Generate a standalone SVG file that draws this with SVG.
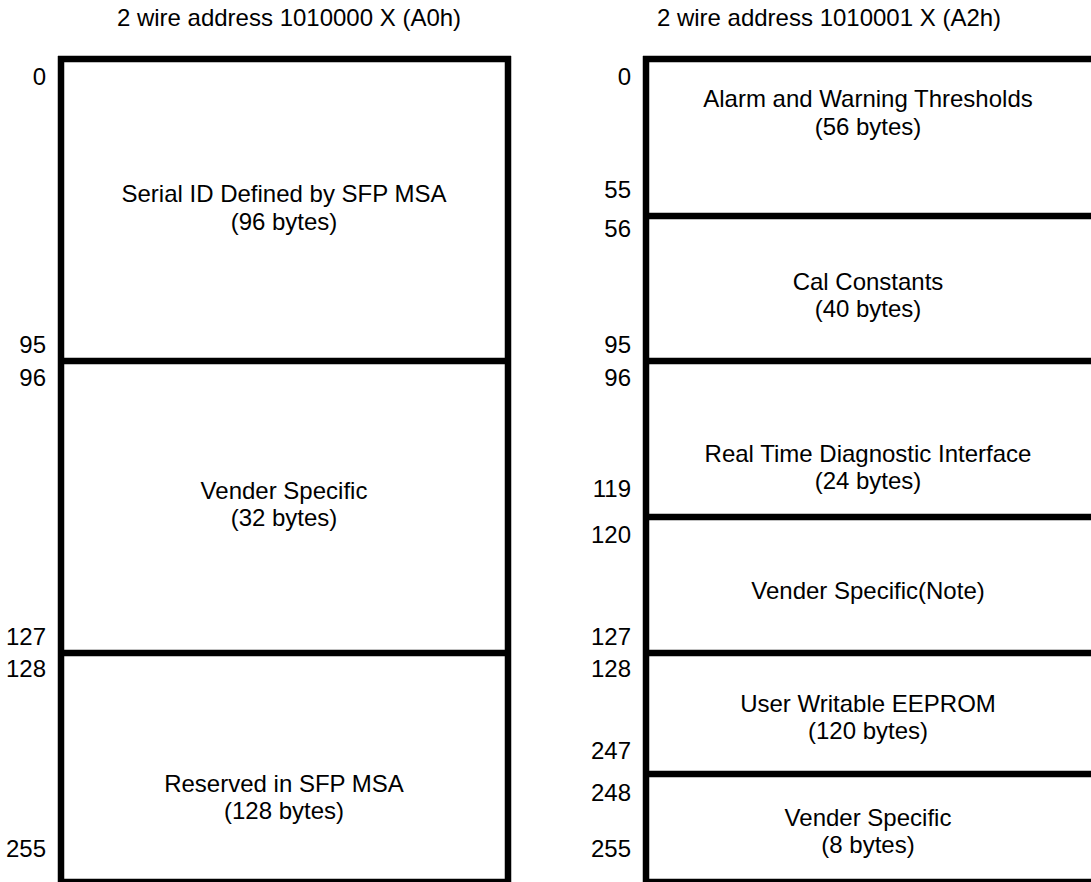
<svg xmlns="http://www.w3.org/2000/svg" width="1091" height="882" viewBox="0 0 1091 882">
<style>
  text { font-family: "Liberation Sans", Arial, sans-serif; font-size: 24px; fill: #000; }
  .c { text-anchor: middle; }
  .r { text-anchor: end; }
  .ln { stroke: #000; stroke-width: 6.5; fill: none; }
</style>
<rect width="1091" height="882" fill="#fff"/>
<g id="titles">
  <text class="c" x="289" y="26">2 wire address 1010000 X (A0h)</text>
  <text class="c" x="829" y="26">2 wire address 1010001 X (A2h)</text>
</g>
<g id="box-a0">
  <path class="ln" d="M61,56 V885 M508,56 V885 M58,59 H511 M61,882 H508"/>
  <path class="ln" d="M61,361 H508 M61,653 H508"/>
</g>
<g id="box-a2">
  <path class="ln" d="M646,56 V885 M643,59 H1091 M646,882 H1091"/>
  <path class="ln" d="M646,216 H1091 M646,361 H1091 M646,517 H1091 M646,653 H1091 M646,774 H1091"/>
</g>
<g id="a0-serial-id">
  <text class="c" x="284" y="202">Serial ID Defined by SFP MSA</text>
  <text class="c" x="284" y="230">(96 bytes)</text>
</g>
<g id="a0-vendor">
  <text class="c" x="284" y="499">Vender Specific</text>
  <text class="c" x="284" y="526">(32 bytes)</text>
</g>
<g id="a0-reserved">
  <text class="c" x="284" y="792">Reserved in SFP MSA</text>
  <text class="c" x="284" y="819">(128 bytes)</text>
</g>
<g id="a2-thresholds">
  <text class="c" x="868" y="107">Alarm and Warning Thresholds</text>
  <text class="c" x="868" y="135">(56 bytes)</text>
</g>
<g id="a2-cal">
  <text class="c" x="868" y="290">Cal Constants</text>
  <text class="c" x="868" y="317">(40 bytes)</text>
</g>
<g id="a2-diag">
  <text class="c" x="868" y="462">Real Time Diagnostic Interface</text>
  <text class="c" x="868" y="489">(24 bytes)</text>
</g>
<g id="a2-vendor-note">
  <text class="c" x="868" y="599">Vender Specific(Note)</text>
</g>
<g id="a2-user">
  <text class="c" x="868" y="712">User Writable EEPROM</text>
  <text class="c" x="868" y="739">(120 bytes)</text>
</g>
<g id="a2-vendor">
  <text class="c" x="868" y="826">Vender Specific</text>
  <text class="c" x="868" y="853">(8 bytes)</text>
</g>
<g id="a0-offsets">
  <text class="r" x="46" y="85">0</text>
  <text class="r" x="46" y="353">95</text>
  <text class="r" x="46" y="386">96</text>
  <text class="r" x="46" y="645">127</text>
  <text class="r" x="46" y="677">128</text>
  <text class="r" x="46" y="857">255</text>
</g>
<g id="a2-offsets">
  <text class="r" x="631" y="85">0</text>
  <text class="r" x="631" y="198">55</text>
  <text class="r" x="631" y="237">56</text>
  <text class="r" x="631" y="353">95</text>
  <text class="r" x="631" y="386">96</text>
  <text class="r" x="631" y="497">119</text>
  <text class="r" x="631" y="543">120</text>
  <text class="r" x="631" y="645">127</text>
  <text class="r" x="631" y="677">128</text>
  <text class="r" x="631" y="759">247</text>
  <text class="r" x="631" y="801">248</text>
  <text class="r" x="631" y="857">255</text>
</g>
<g id="connectors"/>
</svg>
